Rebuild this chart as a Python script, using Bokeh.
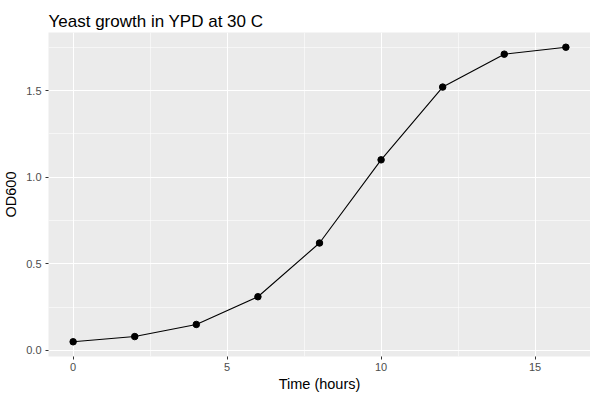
from bokeh.plotting import figure
from bokeh.models import Range1d, SingleIntervalTicker, PrintfTickFormatter
from bokeh.embed import file_html
from bokeh.resources import INLINE

# Data
time_hours = [0, 2, 4, 6, 8, 10, 12, 14, 16]
od600 = [0.05, 0.08, 0.15, 0.31, 0.62, 1.10, 1.52, 1.71, 1.75]

title_text = "Yeast growth in YPD at 30 C"
x_label = "Time (hours)"
y_label = "OD600"

FONT = "Liberation Sans"

xmin, xmax = min(time_hours), max(time_hours)
ymin, ymax = min(od600), max(od600)
xpad = (xmax - xmin) * 0.05
ypad = (ymax - ymin) * 0.05

p = figure(
    frame_width=542, frame_height=324,
    output_backend="svg", toolbar_location=None,
    x_range=Range1d(xmin - xpad, xmax + xpad),
    y_range=Range1d(ymin - ypad, ymax + ypad),
    title=title_text,
    min_border_left=42, min_border_right=0, min_border_top=32, min_border_bottom=30,
)

p.background_fill_color = "#EBEBEB"
p.border_fill_color = "white"
p.outline_line_color = None

p.title.text_font = FONT
p.title.text_font_size = "17px"
p.title.text_font_style = "normal"
p.title.text_color = "black"
p.title.align = "left"
p.title.standoff = 4
p.title.offset = 0

p.xaxis.ticker = SingleIntervalTicker(interval=5, num_minor_ticks=2)
p.yaxis.ticker = SingleIntervalTicker(interval=0.5, num_minor_ticks=2)
p.yaxis.formatter = PrintfTickFormatter(format="%.1f")

for ax in (p.xaxis, p.yaxis):
    ax.axis_line_color = None
    ax.major_tick_line_color = "#333333"
    ax.major_tick_line_width = 1
    ax.major_tick_out = 3
    ax.major_tick_in = 0
    ax.minor_tick_line_color = None
    ax.major_label_text_font = FONT
    ax.major_label_text_font_size = "11px"
    ax.major_label_text_color = "#4D4D4D"
    ax.major_label_standoff = 2
    ax.axis_label_text_font = FONT
    ax.axis_label_text_font_size = "14.5px"
    ax.axis_label_text_font_style = "normal"
    ax.axis_label_text_color = "black"
    ax.axis_label_standoff = 2

p.yaxis.major_label_standoff = 3
p.yaxis.axis_label_standoff = 4

p.xaxis.axis_label = x_label
p.yaxis.axis_label = y_label

p.xgrid.grid_line_color = "white"
p.ygrid.grid_line_color = "white"
p.xgrid.grid_line_width = 1.1
p.ygrid.grid_line_width = 1.1
p.xgrid.minor_grid_line_color = "white"
p.ygrid.minor_grid_line_color = "white"
p.xgrid.minor_grid_line_width = 0.55
p.ygrid.minor_grid_line_width = 0.55

p.line(time_hours, od600, line_color="black", line_width=1.1)
p.scatter(time_hours, od600, size=6.5, fill_color="black", line_color="black")

open("out.html", "w").write(file_html(p, INLINE))
